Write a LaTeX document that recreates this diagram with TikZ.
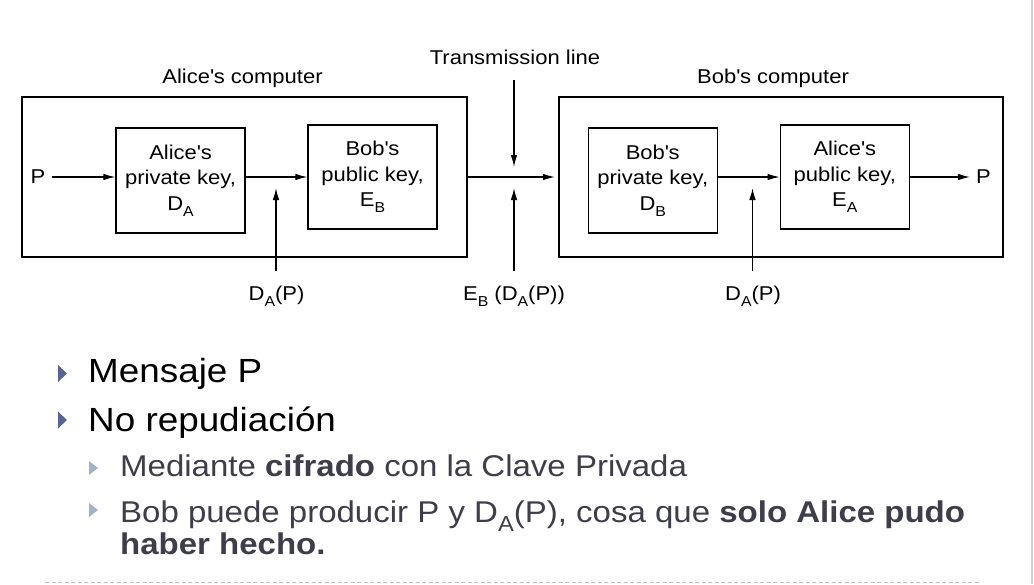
\documentclass[tikz,border=0pt]{standalone}
\usepackage{fontspec}
\usepackage{graphicx}
\setmainfont{Liberation Sans}[FakeStretch=1.1]
\usetikzlibrary{positioning,arrows.meta}
\definecolor{subgray}{RGB}{62,62,74}
\definecolor{mainbul}{RGB}{88,100,150}
\definecolor{subbul}{RGB}{160,178,202}
\newcommand{\subs}[2]{#1\raisebox{-0.3em}{\scalebox{0.72}{#2}}}
\newcommand{\ap}{\textquotesingle}

\begin{document}
\begin{tikzpicture}[x=1pt,y=-1pt,node distance=192pt,on grid,
    diag/.style={font=\fontsize{20}{25.5}\selectfont},
    key/.style={draw,line width=1.2pt,minimum width=129pt,minimum height=104pt,align=center,inner sep=0pt,diag},
    comp/.style={draw,line width=1.2pt,minimum width=445pt,minimum height=160pt},
    lbl/.style={diag,inner sep=0pt},
    arr/.style={line width=1.2pt,-{Latex[length=12pt,width=6.5pt]}},
    bigitem/.style={anchor=base west,inner sep=0pt,font=\fontsize{33.5}{40}\selectfont},
    smallitem/.style={anchor=base west,inner sep=0pt,text=subgray,font=\fontsize{30}{36}\selectfont}]
    \fill[white] (0,0) rectangle (1034,584);
    \useasboundingbox (0,0) rectangle (1034,584);

    \node[comp]                    (alicecomp) at (244.5,177) {};
    \node[comp,minimum width=444pt] (bobcomp)  at (781,177)   {};
    \node[lbl,anchor=base] (alicelbl) at (242.5,83) {Alice\ap s computer};
    \node[lbl,anchor=base] (boblbl)   at (773,83)   {Bob\ap s computer};

    \node[key,minimum height=105pt] (alicepriv) at (180.5,180.5)              {Alice\ap s\\private key,\\\subs{D}{A}};
    \node[key]                      (bobpub)    [right=of alicepriv,yshift=3.5pt] {Bob\ap s\\public key,\\\subs{E}{B}};
    \node[key,minimum height=105pt] (bobpriv)   [right=472.25pt of alicepriv]   {Bob\ap s\\private key,\\\subs{D}{B}};
    \node[key]                      (alicepub)  [right=of bobpriv,yshift=3.5pt]   {Alice\ap s\\public key,\\\subs{E}{A}};

    \node[lbl] (pin)  at (38,177)    {P};
    \node[lbl] (pout) at (983.5,177) {P};
    \node[lbl] (tline) at (515,57)   {Transmission line};
    \node[lbl,anchor=base] (sigA)   at (276.5,300) {\subs{D}{A}(P)};
    \node[lbl,anchor=base] (cipher) at (514,300)   {\subs{E}{B} (\subs{D}{A}(P))};
    \node[lbl,anchor=base] (sigB)   at (753,300)   {\subs{D}{A}(P)};
    \coordinate (tipA)  at (276,188);
    \coordinate (tdown) at (514,167);
    \coordinate (tup)   at (514,188);
    \coordinate (tipB)  at (752.5,188);

    \draw[arr,shorten <=6pt] (pin) -- (alicepriv.west |- pin);
    \draw[arr] (alicepriv.east |- bobpub) -- (bobpub);
    \draw[arr,shorten >=3.5pt] (alicecomp) -- (bobcomp);
    \draw[arr] (bobpriv.east |- alicepub) -- (alicepub);
    \draw[arr,shorten >=6pt] (alicepub) -- (pout);
    \draw[arr,shorten <=15pt] (tline.south -| tdown) -- (tdown);
    \draw[arr,shorten <=14pt] (sigA.north -| tipA) -- (tipA);
    \draw[arr,shorten <=14pt] (cipher.north -| tup) -- (tup);
    \draw[arr,shorten <=14pt] (sigB.north -| tipB) -- (tipB);

    \foreach \y in {373.5,420}
        \fill[mainbul] (58,\y) ++(0,-8.5) -- ++(9,8.5) -- ++(-9,8.5) -- cycle;
    \foreach \y in {468,510}
        \fill[subbul] (89,\y) ++(0,-7) -- ++(9,7) -- ++(-9,7) -- cycle;
    \node[bigitem]   (msg)     at (88,382)  {Mensaje P};
    \node[bigitem]   (norep)   at (88,431)  {No repudiación};
    \node[smallitem] (cifr)    at (120,476) {Mediante \textbf{cifrado} con la Clave Privada};
    \node[smallitem] (bobprod) at (120,522) {Bob puede producir P y \subs{D}{A}(P), cosa que \textbf{solo Alice pudo}};
    \node[smallitem] (hecho)   at (120,554) {\textbf{haber hecho.}};

    \draw[gray!50,line width=1pt,dash pattern=on 4pt off 2.5pt] (45,582) -- (980,582);
    \draw[gray!35,line width=1.5pt] (1032,0) -- (1032,584);
\end{tikzpicture}
\end{document}
